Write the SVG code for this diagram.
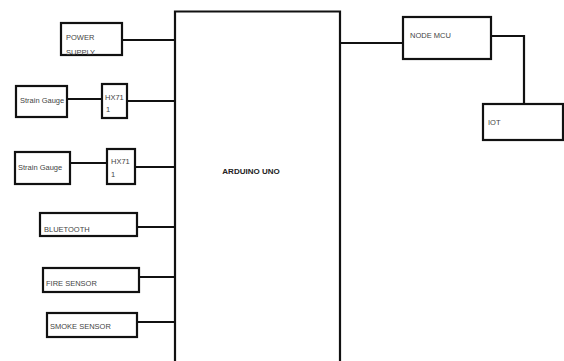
<svg xmlns="http://www.w3.org/2000/svg" width="564" height="361" viewBox="0 0 564 361">
<style>
.box{fill:#fff;stroke:#111;stroke-width:2.2}
.ln{fill:none;stroke:#111;stroke-width:2.2}
.t{font-family:"Liberation Sans",Arial,sans-serif;font-size:7.5px;fill:#444}
.tb{font-family:"Liberation Sans",Arial,sans-serif;font-size:8px;font-weight:bold;fill:#222}
</style>
<rect width="564" height="361" fill="#fff"/>
<g id="connectors">
<line class="ln" x1="122" y1="40" x2="175" y2="40"/>
<line class="ln" x1="67" y1="99" x2="102" y2="99"/>
<line class="ln" x1="127" y1="101" x2="175" y2="101"/>
<line class="ln" x1="70" y1="163" x2="107" y2="163"/>
<line class="ln" x1="135" y1="167" x2="175" y2="167"/>
<line class="ln" x1="137" y1="227" x2="176" y2="227"/>
<line class="ln" x1="139" y1="277" x2="178" y2="277"/>
<line class="ln" x1="137" y1="322" x2="178" y2="322"/>
<line class="ln" x1="340" y1="43" x2="403" y2="43"/>
<polyline class="ln" points="491,36 524,36 524,104"/>
</g>
<g id="arduino">
<polyline class="box" points="175,362 175,11.5 340,11.5 340,362"/>
<text class="tb" x="251" y="174" text-anchor="middle">ARDUINO UNO</text>
</g>
<g id="power">
<rect class="box" x="61" y="23" width="61" height="32"/>
<text class="t" x="66" y="40">POWER</text>
<text class="t" x="66" y="55">SUPPLY</text>
</g>
<g id="strain1">
<rect class="box" x="16" y="86" width="51" height="31"/>
<text class="t" x="20" y="103" font-size="6.2">Strain Gauge</text>
</g>
<g id="hx1">
<rect class="box" x="102" y="84" width="25" height="34"/>
<text class="t" x="105" y="100" font-size="6.5">HX71</text>
<text class="t" x="106" y="112" font-size="6.5">1</text>
</g>
<g id="strain2">
<rect class="box" x="15" y="152" width="55" height="32"/>
<text class="t" x="18" y="170" font-size="6.2">Strain Gauge</text>
</g>
<g id="hx2">
<rect class="box" x="107" y="149" width="28" height="35"/>
<text class="t" x="111" y="164" font-size="6.5">HX71</text>
<text class="t" x="111" y="177" font-size="6.5">1</text>
</g>
<g id="bluetooth">
<rect class="box" x="40" y="213" width="97" height="23"/>
<text class="t" x="44" y="232">BLUETOOTH</text>
</g>
<g id="fire">
<rect class="box" x="43" y="268" width="96" height="24"/>
<text class="t" x="46" y="286">FIRE SENSOR</text>
</g>
<g id="smoke">
<rect class="box" x="47" y="313" width="90" height="24"/>
<text class="t" x="50" y="329">SMOKE SENSOR</text>
</g>
<g id="nodemcu">
<rect class="box" x="403" y="17" width="88" height="42"/>
<text class="t" x="410" y="38">NODE MCU</text>
</g>
<g id="iot">
<rect class="box" x="483" y="104" width="80" height="36"/>
<text class="t" x="488" y="125">IOT</text>
</g>
</svg>
